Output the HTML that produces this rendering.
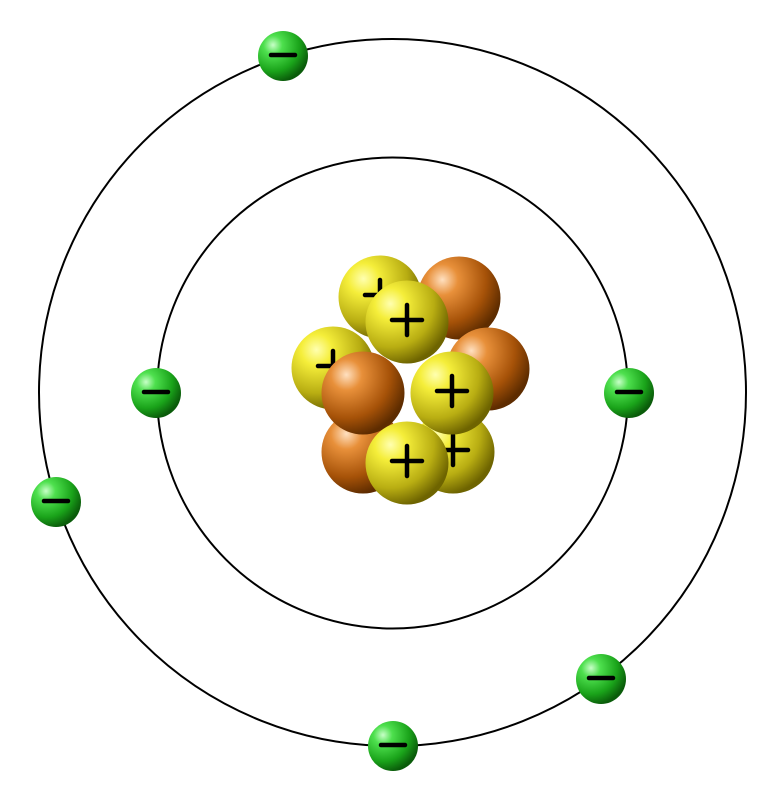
<!DOCTYPE html>
<html><head><meta charset="utf-8"><style>
html,body{margin:0;padding:0;background:#fff;width:772px;height:804px;overflow:hidden}
svg{display:block}
</style></head><body>
<svg id="atom" width="772" height="804" viewBox="0 0 772 804" xmlns="http://www.w3.org/2000/svg">
<defs>
<radialGradient id="gY" cx="0.3" cy="0.28" r="0.75" fx="0.3" fy="0.28">
<stop offset="0" stop-color="#ffffb0"/><stop offset="0.25" stop-color="#f5ee3a"/><stop offset="0.7" stop-color="#b8ad12"/><stop offset="1" stop-color="#6e6400"/>
</radialGradient>
<radialGradient id="gO" cx="0.3" cy="0.28" r="0.75" fx="0.3" fy="0.28">
<stop offset="0" stop-color="#ffe0c0"/><stop offset="0.25" stop-color="#e8903a"/><stop offset="0.7" stop-color="#a65208"/><stop offset="1" stop-color="#5e2c00"/>
</radialGradient>
<radialGradient id="gG" cx="0.3" cy="0.28" r="0.75" fx="0.3" fy="0.28">
<stop offset="0" stop-color="#c8ffc8"/><stop offset="0.25" stop-color="#4ee04e"/><stop offset="0.7" stop-color="#1aa31a"/><stop offset="1" stop-color="#0a5c0a"/>
</radialGradient>
</defs>
<circle cx="392.5" cy="392.5" r="353.5" fill="none" stroke="#000" stroke-width="2"/>
<circle cx="392.5" cy="393" r="235.5" fill="none" stroke="#000" stroke-width="2"/>
<g id="nucleus"></g>
<g id="electrons"></g>
</svg>
<script>
const nucleonTypes = ['n','n','p','p','n','p','p','n','p','p'];
const nucleonX = [459,488,380,333,363,453,407,363,452,407];
const nucleonY = [298,369,297,368,452,452,322,393,393,463];
const electronX = [283,156,629,56,601,393];
const electronY = [56,393,393,502,679,746];
const NS='http://www.w3.org/2000/svg';
const nuc=document.getElementById('nucleus');
for(let i=0;i<nucleonTypes.length;i++){
  const g=document.createElementNS(NS,'g');
  
  
  const c=document.createElementNS(NS,'circle');
  c.setAttribute('cx',nucleonX[i]);c.setAttribute('cy',nucleonY[i]);c.setAttribute('r',41.5);
  c.setAttribute('fill',nucleonTypes[i]==='p'?'url(#gY)':'url(#gO)');
  g.appendChild(c);
  if(nucleonTypes[i]==='p'){
    const p=document.createElementNS(NS,'path');
    const x=nucleonX[i],y=nucleonY[i]-2;
    p.setAttribute('d',`M${x-15} ${y}H${x+15}M${x} ${y-15}V${y+15}`);
    p.setAttribute('stroke','#000');p.setAttribute('stroke-width','4.5');p.setAttribute('stroke-linecap','round');
    g.appendChild(p);
  }
  nuc.appendChild(g);
}
const el=document.getElementById('electrons');
for(let i=0;i<electronX.length;i++){
  const g=document.createElementNS(NS,'g');
  
  
  const c=document.createElementNS(NS,'circle');
  c.setAttribute('cx',electronX[i]);c.setAttribute('cy',electronY[i]);c.setAttribute('r',25);
  c.setAttribute('fill','url(#gG)');
  g.appendChild(c);
  const p=document.createElementNS(NS,'path');
  const x=electronX[i],y=electronY[i]-1;
  p.setAttribute('d',`M${x-12} ${y}H${x+12}`);
  p.setAttribute('stroke','#000');p.setAttribute('stroke-width','4.5');p.setAttribute('stroke-linecap','round');
  g.appendChild(p);
  el.appendChild(g);
}
</script>
</body></html>
